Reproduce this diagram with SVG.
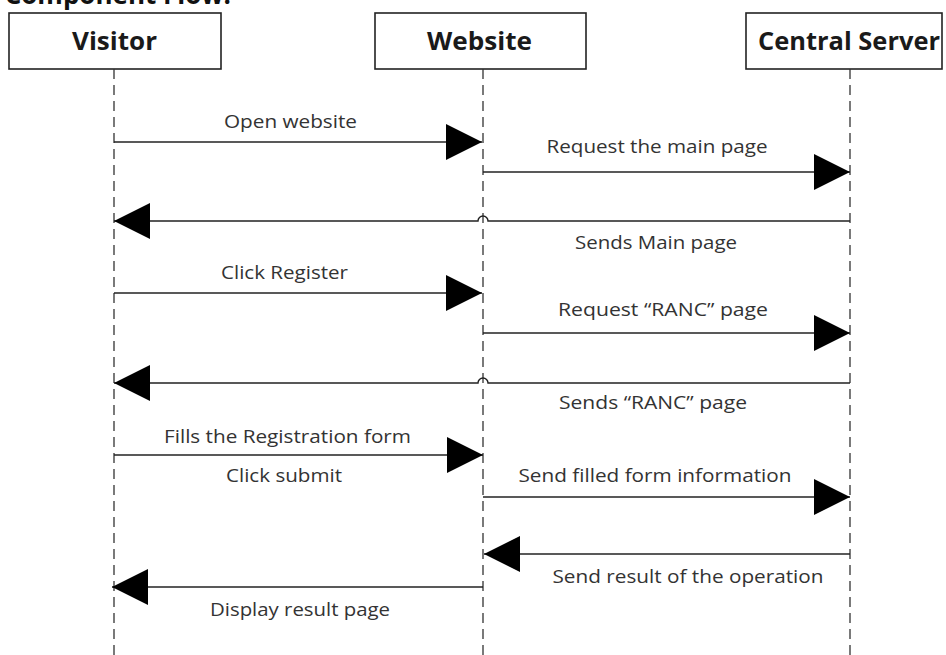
<svg xmlns="http://www.w3.org/2000/svg" width="946" height="655" viewBox="0 0 946 655">
  <style>
    .box { fill: #ffffff; stroke: #222222; stroke-width: 1.6; }
    .head { font-family: "Open Sans", "Liberation Sans", sans-serif; font-weight: bold; font-size: 25px; fill: #1a1a1a; text-anchor: middle; }
    .title { font-family: "Open Sans", "Liberation Sans", sans-serif; font-weight: bold; font-size: 26px; fill: #111111; text-anchor: end; }
    .life { stroke: #333333; stroke-width: 1.3; stroke-dasharray: 10 6; fill: none; }
    .msg { stroke: #222222; stroke-width: 1.4; fill: none; marker-end: url(#head); }
    .lbl { font-family: "Open Sans", "Liberation Sans", sans-serif; font-size: 18px; fill: #333333; text-anchor: middle; }
  </style>
  <defs>
    <marker id="head" markerUnits="userSpaceOnUse" markerWidth="36" markerHeight="36" refX="36" refY="18" orient="auto" viewBox="0 0 36 36">
      <path d="M0,0 L36,18 L0,36 z" fill="#000000"/>
    </marker>
  </defs>

  <rect width="946" height="655" fill="#ffffff"/>

  <!-- section heading, partly above the top edge -->
  <text class="title" x="231" y="4">Component Flow:</text>

  <!-- participants -->
  <g id="visitor">
    <rect class="box" x="9" y="13" width="212" height="56"/>
    <text class="head" x="114.5" y="50" textLength="85" lengthAdjust="spacingAndGlyphs">Visitor</text>
  </g>
  <g id="website">
    <rect class="box" x="375" y="13" width="211" height="56"/>
    <text class="head" x="479.5" y="50" textLength="105" lengthAdjust="spacingAndGlyphs">Website</text>
  </g>
  <g id="central-server">
    <rect class="box" x="746" y="13" width="196" height="56"/>
    <text class="head" x="849" y="50" textLength="182" lengthAdjust="spacingAndGlyphs">Central Server</text>
  </g>

  <!-- lifelines -->
  <g id="lifelines">
    <line class="life" x1="114" y1="69" x2="114" y2="655"/>
    <line class="life" x1="483" y1="69" x2="483" y2="655"/>
    <line class="life" x1="850" y1="69" x2="850" y2="655"/>
  </g>

  <!-- messages -->
  <g id="connectors">
    <path class="msg" d="M114,142 H482"/>
    <path class="msg" d="M483,172 H850"/>
    <path class="msg" d="M850,221 H488 a5,5 0 0 0 -10,0 H114"/>
    <path class="msg" d="M114,293 H482"/>
    <path class="msg" d="M483,333 H850"/>
    <path class="msg" d="M850,383 H488 a5,5 0 0 0 -10,0 H114"/>
    <path class="msg" d="M114,455 H483"/>
    <path class="msg" d="M483,497 H850"/>
    <path class="msg" d="M850,554 H484"/>
    <path class="msg" d="M483,587 H112"/>
  </g>

  <!-- message labels -->
  <g id="labels">
    <text class="lbl" x="290.5" y="128" textLength="133" lengthAdjust="spacingAndGlyphs">Open website</text>
    <text class="lbl" x="657" y="153" textLength="221" lengthAdjust="spacingAndGlyphs">Request the main page</text>
    <text class="lbl" x="656" y="249" textLength="162" lengthAdjust="spacingAndGlyphs">Sends Main page</text>
    <text class="lbl" x="284.5" y="279" textLength="127" lengthAdjust="spacingAndGlyphs">Click Register</text>
    <text class="lbl" x="663" y="316" textLength="210" lengthAdjust="spacingAndGlyphs">Request “RANC” page</text>
    <text class="lbl" x="653" y="409" textLength="188" lengthAdjust="spacingAndGlyphs">Sends “RANC” page</text>
    <text class="lbl" x="287.5" y="443" textLength="247" lengthAdjust="spacingAndGlyphs">Fills the Registration form</text>
    <text class="lbl" x="284" y="482" textLength="116" lengthAdjust="spacingAndGlyphs">Click submit</text>
    <text class="lbl" x="655" y="482" textLength="273" lengthAdjust="spacingAndGlyphs">Send filled form information</text>
    <text class="lbl" x="688" y="583" textLength="271" lengthAdjust="spacingAndGlyphs">Send result of the operation</text>
    <text class="lbl" x="300" y="616" textLength="180" lengthAdjust="spacingAndGlyphs">Display result page</text>
  </g>
</svg>
